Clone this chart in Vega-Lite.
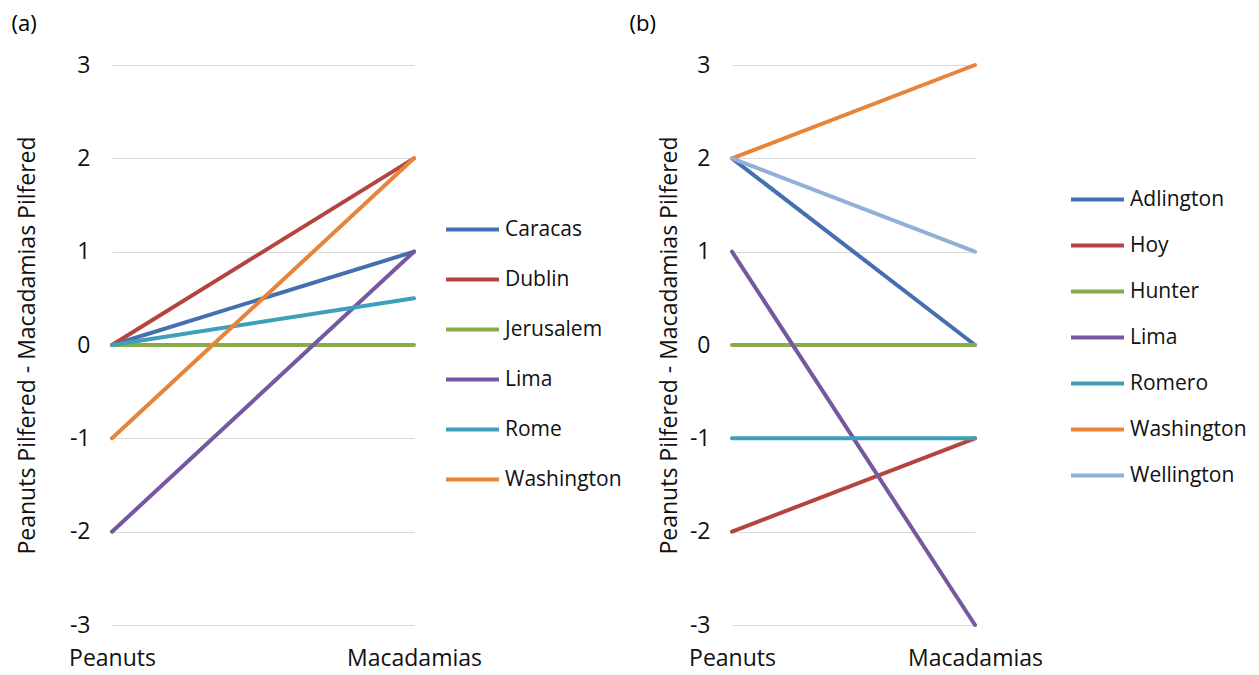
{
  "$schema": "https://vega.github.io/schema/vega-lite/v6.json",
  "padding": {"left": 11, "top": 13, "right": 0, "bottom": 0},
  "background": "white",
  "datasets": {
    "a": [
      {"city": "Caracas", "nut": "Peanuts", "diff": 0},
      {"city": "Caracas", "nut": "Macadamias", "diff": 1},
      {"city": "Dublin", "nut": "Peanuts", "diff": 0},
      {"city": "Dublin", "nut": "Macadamias", "diff": 2},
      {"city": "Jerusalem", "nut": "Peanuts", "diff": 0},
      {"city": "Jerusalem", "nut": "Macadamias", "diff": 0},
      {"city": "Lima", "nut": "Peanuts", "diff": -2},
      {"city": "Lima", "nut": "Macadamias", "diff": 1},
      {"city": "Rome", "nut": "Peanuts", "diff": 0},
      {"city": "Rome", "nut": "Macadamias", "diff": 0.5},
      {"city": "Washington", "nut": "Peanuts", "diff": -1},
      {"city": "Washington", "nut": "Macadamias", "diff": 2}
    ],
    "b": [
      {"city": "Adlington", "nut": "Peanuts", "diff": 2},
      {"city": "Adlington", "nut": "Macadamias", "diff": 0},
      {"city": "Hoy", "nut": "Peanuts", "diff": -2},
      {"city": "Hoy", "nut": "Macadamias", "diff": -1},
      {"city": "Hunter", "nut": "Peanuts", "diff": 0},
      {"city": "Hunter", "nut": "Macadamias", "diff": 0},
      {"city": "Lima", "nut": "Peanuts", "diff": 1},
      {"city": "Lima", "nut": "Macadamias", "diff": -3},
      {"city": "Romero", "nut": "Peanuts", "diff": -1},
      {"city": "Romero", "nut": "Macadamias", "diff": -1},
      {"city": "Washington", "nut": "Peanuts", "diff": 2},
      {"city": "Washington", "nut": "Macadamias", "diff": 3},
      {"city": "Wellington", "nut": "Peanuts", "diff": 2},
      {"city": "Wellington", "nut": "Macadamias", "diff": 1}
    ]
  },
  "spacing": 7,
  "hconcat": [
    {
      "title": {"text": "(a)", "anchor": "start", "dx": -5},
      "width": 302,
      "height": 560,
      "data": {"name": "a"},
      "mark": {"type": "line", "strokeWidth": 4, "strokeCap": "round"},
      "encoding": {
        "x": {"field": "nut", "type": "nominal", "sort": ["Peanuts", "Macadamias"],
              "scale": {"type": "point", "padding": 0}, "axis": {"title": null}},
        "y": {"field": "diff", "type": "quantitative",
              "scale": {"domain": [-3, 3], "nice": false},
              "axis": {"values": [-3, -2, -1, 0, 1, 2, 3], "labelExpr": "'' + datum.value", "titlePadding": 30, "title": "Peanuts Pilfered - Macadamias Pilfered"}},
        "color": {"field": "city", "type": "nominal",
                  "scale": {"domain": ["Caracas", "Dublin", "Jerusalem", "Lima", "Rome", "Washington"],
                            "range": ["#4470B0", "#B5443F", "#8AAB4A", "#7558A0", "#3E9FB8", "#E8843A"]},
                  "legend": {"title": null, "rowPadding": 11}}
      }
    },
    {
      "title": {"text": "(b)", "anchor": "start", "dx": -29},
      "width": 243,
      "height": 560,
      "data": {"name": "b"},
      "mark": {"type": "line", "strokeWidth": 4, "strokeCap": "round"},
      "encoding": {
        "x": {"field": "nut", "type": "nominal", "sort": ["Peanuts", "Macadamias"],
              "scale": {"type": "point", "padding": 0}, "axis": {"title": null}},
        "y": {"field": "diff", "type": "quantitative",
              "scale": {"domain": [-3, 3], "nice": false},
              "axis": {"values": [-3, -2, -1, 0, 1, 2, 3], "labelExpr": "'' + datum.value", "titlePadding": 8, "title": "Peanuts Pilfered - Macadamias Pilfered"}},
        "color": {"field": "city", "type": "nominal",
                  "scale": {"domain": ["Adlington", "Hoy", "Hunter", "Lima", "Romero", "Washington", "Wellington"],
                            "range": ["#4470B0", "#B5443F", "#8AAB4A", "#7558A0", "#3E9FB8", "#E8843A", "#92AFD8"]},
                  "legend": {"title": null, "rowPadding": 7, "orient": "none", "legendX": 337, "legendY": 106}}
      }
    }
  ],
  "resolve": {"scale": {"color": "independent", "y": "independent", "x": "independent"}, "legend": {"color": "independent"}},
  "config": {
    "font": "Open Sans",
    "view": {"stroke": null},
    "title": {"fontSize": 22, "fontWeight": "normal", "color": "#000", "offset": 18},
    "axis": {
      "labelFontSize": 23, "labelColor": "#111", "titleFontSize": 23, "titleFontWeight": "normal", "titleColor": "#111",
      "domain": false, "ticks": false, "gridColor": "#D9D9D9", "gridWidth": 1
    },
    "axisY": {"labelPadding": 22},
    "axisX": {"labelPadding": 22, "grid": false, "labelAngle": 0},
    "legend": {
      "orient": "right", "offset": 22, "labelFontSize": 21, "labelColor": "#111",
      "symbolType": "stroke", "symbolSize": 2809, "symbolStrokeWidth": 4, "labelOffset": 4,
      "layout": {"right": {"anchor": "middle"}}
    }
  }
}
